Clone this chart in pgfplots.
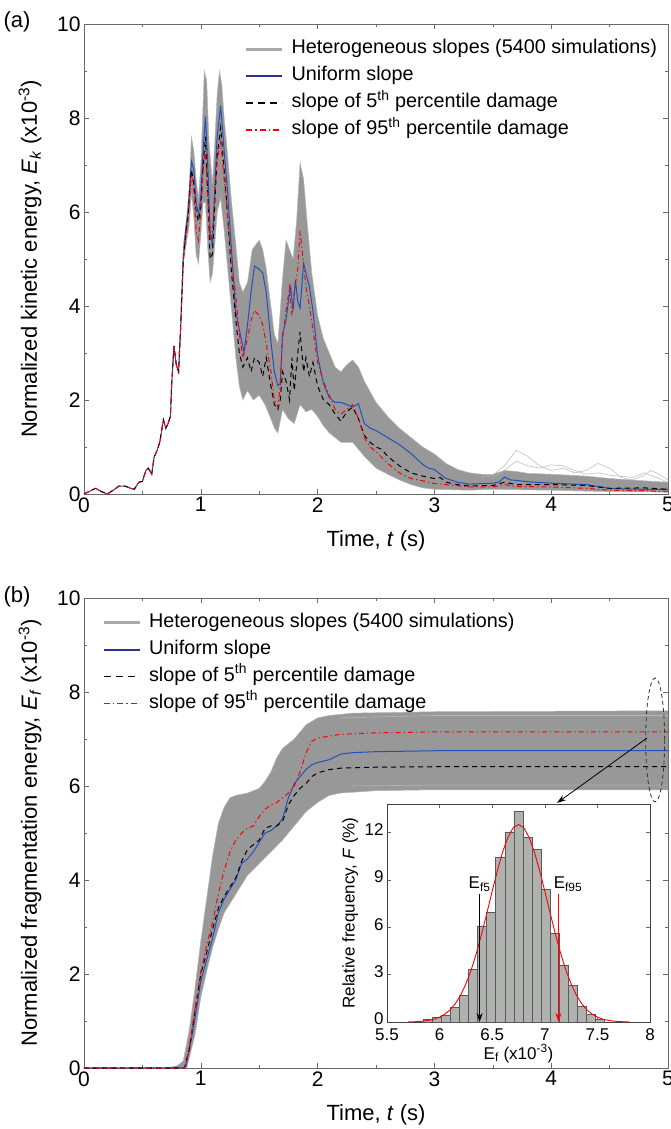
\documentclass[border=0pt]{standalone}
\usepackage{fontspec}
\setmainfont{Liberation Sans}
\setsansfont{Liberation Sans}
\usepackage{pgfplots}
\pgfplotsset{compat=1.18}
\usepgfplotslibrary{fillbetween}
\usetikzlibrary{arrows.meta}

\definecolor{band}{RGB}{152,152,152}
\definecolor{bandedge}{RGB}{182,182,182}
\definecolor{legray}{RGB}{170,170,170}
\definecolor{ublue}{RGB}{35,80,190}
\definecolor{lblue}{RGB}{45,50,150}
\definecolor{axgray}{RGB}{105,105,105}
\definecolor{histfill}{RGB}{175,178,175}
\definecolor{pred}{RGB}{255,0,0}

\pgfplotsset{
  mainax/.style={
    scale only axis, width=584pt, height=470pt,
    xmin=0, xmax=5, ymin=0, ymax=10,
    xtick={0,...,5}, ytick={0,2,...,10},
    minor x tick num=1, minor y tick num=1,
    tick align=inside,
    major tick length=5pt, minor tick length=3pt,
    axis line style={axgray, line width=0.8pt},
    every tick/.style={axgray, line width=0.6pt},
    tick label style={font=\fontsize{21}{25}\selectfont},
    label style={font=\fontsize{22}{26}\selectfont},
    /pgf/number format/assume math mode=true,
    legend style={draw=none, fill=none, font=\fontsize{19.8}{23}\selectfont, row sep=4.5pt,
      anchor=north west, nodes={text height=14pt, text depth=4.5pt, inner ysep=2pt}},
    legend cell align=left,
    xlabel style={at={(axis description cs:0.5,-0.1)}, anchor=center},
    ylabel style={at={(axis description cs:-0.0925,0.5)}, anchor=center},
    clip=false,
    xlabel={Time, \textit{t} (s)},
  },
  lhet/.style={legend image code/.code={\draw[legray, line width=3pt] (0pt,0pt) -- (36pt,0pt); \path (43pt,0pt);}},
  lblu/.style={legend image code/.code={\draw[lblue, line width=1.8pt] (0pt,0pt) -- (36pt,0pt); \path (43pt,0pt);}},
  lblk/.style={legend image code/.code={\draw[black, line width=1.5pt, dash pattern=on 7pt off 5pt] (0pt,0pt) -- (36pt,0pt); \path (43pt,0pt);}},
  lred/.style={legend image code/.code={\draw[pred, line width=1.5pt, dash pattern=on 6pt off 3pt on 1.5pt off 3pt] (0pt,0pt) -- (36pt,0pt); \path (43pt,0pt);}},
}

\begin{document}
\begin{tikzpicture}
%================ TOP PANEL (a) =================
\begin{axis}[mainax, at={(0pt,574pt)},
  ylabel={Normalized kinetic energy, \textit{E}\textsubscript{\textit{k}} (x10\textsuperscript{-3})},
  legend style={at={(axis description cs:0.27,0.975)}}]
\addlegendimage{lhet}
\addlegendentry{Heterogeneous slopes (5400 simulations)}
\addlegendimage{lblu}
\addlegendentry{Uniform slope}
\addlegendimage{lblk}
\addlegendentry{ slope of 5\textsuperscript{th} percentile damage}
\addlegendimage{lred}
\addlegendentry{ slope of 95\textsuperscript{th} percentile damage}
% envelopes of heterogeneous simulations
\addplot[name path=ua, draw=bandedge, line width=0.5pt, forget plot] coordinates {
(0.83,3.7) (0.85,5.3) (0.88,5.9) (0.9,6.5) (0.92,7.6) (0.94,7.3) (0.96,6.7) (0.98,6.3) (1.0,7.0) (1.02,8.3) (1.03,9.0) (1.05,8.8) (1.07,7.5) (1.09,6.9) (1.1,6.6) (1.12,7.5) (1.14,8.5) (1.16,9.0) (1.18,8.7) (1.2,8.0) (1.23,7.2) (1.26,6.3) (1.3,5.3) (1.33,4.5) (1.36,4.3) (1.4,4.5) (1.44,5.2) (1.47,5.3) (1.5,5.4) (1.53,5.2) (1.56,4.8) (1.6,4.0) (1.63,3.4) (1.66,3.2) (1.7,4.6) (1.73,5.4) (1.76,5.2) (1.79,5.0) (1.82,5.8) (1.85,7.05) (1.88,6.7) (1.91,5.8) (1.95,4.7) (2.0,3.8) (2.05,3.3) (2.1,3.0) (2.15,2.7) (2.2,2.6) (2.25,2.75) (2.3,2.85) (2.35,2.7) (2.4,2.4) (2.5,1.95) (2.6,1.65) (2.7,1.4) (2.8,1.2) (2.9,1.0) (3.0,0.85) (3.1,0.65) (3.2,0.52) (3.3,0.45) (3.4,0.42) (3.5,0.42) (3.6,0.5) (3.7,0.48) (3.8,0.44) (4.0,0.42) (4.3,0.38) (4.5,0.33) (4.8,0.28) (5.0,0.25)};
\addplot[name path=la, draw=bandedge, line width=0.5pt, forget plot] coordinates {
(0.83,3.6) (0.85,4.9) (0.88,5.4) (0.9,5.7) (0.92,6.4) (0.94,5.9) (0.96,5.1) (0.98,4.9) (1.0,5.5) (1.02,6.2) (1.04,6.2) (1.06,5.2) (1.08,4.5) (1.1,4.7) (1.12,5.3) (1.14,6.0) (1.17,6.3) (1.2,5.6) (1.23,4.8) (1.26,4.0) (1.3,2.9) (1.33,2.3) (1.36,2.0) (1.4,2.2) (1.45,2.0) (1.5,2.1) (1.55,1.9) (1.6,1.6) (1.63,1.4) (1.66,1.3) (1.7,1.8) (1.75,1.6) (1.8,1.5) (1.85,1.9) (1.9,1.75) (1.95,1.8) (2.0,1.65) (2.05,1.45) (2.1,1.3) (2.2,1.1) (2.3,1.1) (2.4,0.8) (2.5,0.55) (2.6,0.42) (2.7,0.3) (2.8,0.2) (2.9,0.13) (3.0,0.1) (3.3,0.08) (3.5,0.1) (4.0,0.08) (4.5,0.05) (5.0,0.04)};
\addplot[band, forget plot] fill between[of=ua and la];
% a few outlying simulations
\addplot[bandedge, line width=0.5pt, forget plot] coordinates {
(3.4,0.35) (3.5,0.4) (3.6,0.6) (3.7,0.93) (3.8,0.8) (3.9,0.6) (4.0,0.5) (4.1,0.55) (4.2,0.45) (4.3,0.5) (4.4,0.65) (4.5,0.55) (4.6,0.35) (4.7,0.3) (4.8,0.4) (4.85,0.5) (4.9,0.45) (5.0,0.3)};
\addplot[bandedge, line width=0.5pt, forget plot] coordinates {
(3.5,0.35) (3.6,0.5) (3.7,0.7) (3.8,0.6) (3.9,0.55) (4.0,0.62) (4.1,0.6) (4.2,0.5) (4.3,0.42) (4.4,0.45) (4.5,0.4) (4.7,0.35) (4.8,0.45) (4.9,0.35) (5.0,0.25)};
% uniform slope
\addplot[ublue, line width=1pt, forget plot] coordinates {
(0,0) (0.05,0.06) (0.1,0.12) (0.15,0.05) (0.2,0) (0.25,0.08) (0.3,0.17) (0.35,0.17) (0.4,0.12) (0.43,0.1) (0.47,0.25) (0.5,0.27) (0.53,0.5) (0.55,0.55) (0.58,0.42) (0.6,0.78) (0.63,0.95) (0.65,1.12) (0.68,1.58) (0.7,1.4) (0.72,1.5) (0.74,1.65) (0.75,2.3) (0.77,3.15) (0.79,2.75) (0.81,2.6) (0.83,3.7) (0.85,5.0) (0.87,5.6) (0.89,6.0) (0.91,6.7) (0.92,7.08) (0.94,6.9) (0.96,6.2) (0.98,5.95) (1.0,6.3) (1.02,7.3) (1.04,8.03) (1.06,7.0) (1.08,5.6) (1.1,5.3) (1.12,6.5) (1.14,7.6) (1.17,8.26) (1.2,7.3) (1.23,6.4) (1.26,5.3) (1.3,3.85) (1.33,3.5) (1.37,3.02) (1.4,3.6) (1.43,4.3) (1.46,4.85) (1.5,4.78) (1.53,4.7) (1.56,4.3) (1.6,3.25) (1.63,2.6) (1.66,2.3) (1.68,2.35) (1.7,3.4) (1.73,3.7) (1.75,4.1) (1.77,4.4) (1.79,3.9) (1.81,4.55) (1.83,4.1) (1.85,3.95) (1.88,4.9) (1.9,4.7) (1.93,4.4) (1.96,3.9) (2.0,2.95) (2.05,2.35) (2.1,2.05) (2.15,1.95) (2.2,1.95) (2.25,1.9) (2.3,1.85) (2.35,1.92) (2.4,1.5) (2.45,1.4) (2.5,1.35) (2.6,1.2) (2.7,1.05) (2.8,0.86) (2.9,0.63) (2.95,0.55) (3.0,0.52) (3.05,0.42) (3.1,0.33) (3.2,0.25) (3.3,0.21) (3.4,0.22) (3.5,0.23) (3.55,0.25) (3.6,0.36) (3.65,0.3) (3.7,0.29) (3.8,0.26) (4.0,0.23) (4.2,0.21) (4.3,0.2) (4.4,0.16) (4.5,0.12) (4.6,0.11) (4.8,0.1) (5.0,0.1)};
% 5th percentile
\addplot[black, line width=1pt, dash pattern=on 5pt off 4pt, forget plot] coordinates {
(0,0) (0.05,0.06) (0.1,0.12) (0.15,0.05) (0.2,0) (0.25,0.08) (0.3,0.17) (0.35,0.17) (0.4,0.12) (0.43,0.1) (0.47,0.25) (0.5,0.27) (0.53,0.5) (0.55,0.55) (0.58,0.42) (0.6,0.78) (0.63,0.95) (0.65,1.12) (0.68,1.58) (0.7,1.4) (0.72,1.5) (0.74,1.65) (0.75,2.3) (0.77,3.15) (0.79,2.75) (0.81,2.6) (0.83,3.7) (0.85,5.0) (0.87,5.5) (0.89,5.9) (0.91,6.6) (0.92,6.9) (0.94,6.6) (0.96,6.0) (0.98,5.8) (1.0,6.1) (1.02,7.0) (1.04,7.6) (1.06,6.4) (1.08,5.0) (1.1,5.1) (1.12,6.2) (1.14,7.2) (1.17,7.8) (1.2,6.9) (1.23,5.9) (1.26,4.8) (1.3,3.7) (1.33,3.0) (1.36,2.7) (1.4,2.9) (1.43,2.6) (1.46,2.9) (1.5,2.8) (1.53,2.5) (1.56,2.9) (1.6,2.3) (1.63,1.9) (1.66,1.8) (1.68,2.0) (1.7,2.6) (1.73,2.4) (1.76,2.0) (1.78,2.9) (1.8,2.2) (1.83,3.0) (1.85,3.45) (1.88,2.6) (1.9,2.9) (1.93,2.5) (1.96,2.8) (2.0,2.3) (2.05,2.0) (2.1,1.9) (2.15,1.7) (2.2,1.55) (2.25,1.75) (2.3,1.85) (2.35,1.6) (2.4,1.25) (2.45,1.1) (2.5,1.0) (2.55,0.95) (2.6,0.8) (2.7,0.6) (2.8,0.45) (2.9,0.38) (3.0,0.33) (3.05,0.35) (3.1,0.25) (3.2,0.2) (3.3,0.17) (3.5,0.18) (3.6,0.25) (3.7,0.2) (4.0,0.2) (4.3,0.18) (4.5,0.12) (4.8,0.13) (5.0,0.1)};
% 95th percentile
\addplot[pred, line width=1pt, dash pattern=on 5pt off 3pt on 1.2pt off 3pt, forget plot] coordinates {
(0,0) (0.05,0.06) (0.1,0.12) (0.15,0.05) (0.2,0) (0.25,0.08) (0.3,0.17) (0.35,0.17) (0.4,0.12) (0.43,0.1) (0.47,0.25) (0.5,0.27) (0.53,0.5) (0.55,0.55) (0.58,0.42) (0.6,0.78) (0.63,0.95) (0.65,1.12) (0.68,1.58) (0.7,1.4) (0.72,1.5) (0.74,1.65) (0.75,2.3) (0.77,3.15) (0.79,2.75) (0.81,2.6) (0.83,3.7) (0.85,5.0) (0.87,5.4) (0.89,5.8) (0.91,6.5) (0.92,6.8) (0.94,6.5) (0.96,5.6) (0.98,5.4) (1.0,6.0) (1.02,6.9) (1.04,7.3) (1.06,6.3) (1.08,5.4) (1.1,5.6) (1.12,6.4) (1.14,7.1) (1.17,7.5) (1.2,6.7) (1.23,5.9) (1.26,5.1) (1.3,4.2) (1.33,3.4) (1.36,2.9) (1.4,3.3) (1.43,3.7) (1.46,3.9) (1.5,3.8) (1.53,3.6) (1.56,3.2) (1.6,2.6) (1.63,2.0) (1.66,1.85) (1.68,2.3) (1.7,3.3) (1.73,3.9) (1.76,4.4) (1.78,3.8) (1.8,4.3) (1.83,4.8) (1.85,5.6) (1.88,4.9) (1.9,4.4) (1.93,4.0) (1.96,3.5) (2.0,2.8) (2.05,2.4) (2.1,2.1) (2.15,1.8) (2.2,1.7) (2.25,1.8) (2.3,1.9) (2.35,1.6) (2.4,1.2) (2.45,1.0) (2.5,0.9) (2.6,0.65) (2.7,0.45) (2.8,0.33) (2.9,0.28) (3.0,0.22) (3.1,0.2) (3.3,0.15) (3.5,0.15) (3.6,0.2) (3.7,0.16) (4.0,0.15) (4.3,0.12) (4.5,0.08) (4.8,0.07) (5.0,0.05)};
\end{axis}

%================ BOTTOM PANEL (b) =================
\begin{axis}[mainax, at={(0pt,0pt)},
  ylabel={Normalized fragmentation energy, \textit{E}\textsubscript{\textit{f}} (x10\textsuperscript{-3})},
  legend style={at={(axis description cs:0.026,0.976)}}]
\addlegendimage{lhet}
\addlegendentry{Heterogeneous slopes (5400 simulations)}
\addlegendimage{lblu}
\addlegendentry{Uniform slope}
\addlegendimage{lblk}
\addlegendentry{ slope of 5\textsuperscript{th} percentile damage}
\addlegendimage{lred}
\addlegendentry{ slope of 95\textsuperscript{th} percentile damage}
\addplot[name path=ub, draw=bandedge, line width=0.5pt, forget plot] coordinates {
(0.7,0) (0.8,0.05) (0.85,0.15) (0.9,0.8) (0.95,1.7) (1.0,2.7) (1.05,3.6) (1.1,4.5) (1.15,5.2) (1.2,5.55) (1.25,5.75) (1.3,5.8) (1.4,5.85) (1.5,5.95) (1.55,6.1) (1.6,6.3) (1.65,6.6) (1.7,6.8) (1.8,7.0) (1.9,7.3) (2.0,7.45) (2.1,7.5) (2.3,7.55) (3.0,7.58) (5.0,7.6)};
\addplot[name path=lb, draw=bandedge, line width=0.5pt, forget plot] coordinates {
(0.7,0) (0.88,0) (0.95,0.7) (1.0,1.5) (1.05,2.05) (1.1,2.55) (1.15,2.95) (1.2,3.3) (1.3,3.7) (1.4,4.1) (1.5,4.35) (1.6,4.6) (1.7,4.85) (1.8,5.15) (1.9,5.45) (2.0,5.65) (2.1,5.8) (2.2,5.85) (2.5,5.9) (3.0,5.92) (5.0,5.92)};
\addplot[band, forget plot] fill between[of=ub and lb];
\addplot[bandedge, line width=0.6pt, forget plot] coordinates {(2.2,7.45) (3.0,7.5) (5.0,7.5)};
\addplot[bandedge, line width=0.6pt, forget plot] coordinates {(2.3,6.0) (3.0,6.02) (5.0,6.02)};
% uniform slope
\addplot[ublue, line width=1pt, forget plot] coordinates {
(0,0) (0.85,0) (0.87,0.02) (0.9,0.35) (0.95,1.05) (1.0,1.85) (1.05,2.3) (1.1,2.75) (1.15,3.3) (1.2,3.6) (1.25,3.8) (1.3,4.0) (1.35,4.35) (1.4,4.45) (1.45,4.6) (1.5,4.8) (1.55,5.0) (1.6,5.05) (1.65,5.15) (1.7,5.3) (1.75,5.75) (1.8,6.05) (1.85,6.2) (1.9,6.35) (1.95,6.45) (2.0,6.5) (2.1,6.56) (2.15,6.62) (2.2,6.68) (2.3,6.71) (2.5,6.73) (3.0,6.75) (4.0,6.75) (5.0,6.75)};
\addplot[black, line width=1pt, dash pattern=on 5pt off 4pt, forget plot] coordinates {
(0,0) (0.86,0) (0.9,0.4) (0.95,1.2) (1.0,2.0) (1.05,2.45) (1.1,2.95) (1.15,3.4) (1.2,3.65) (1.25,3.85) (1.3,4.05) (1.35,4.4) (1.4,4.65) (1.45,4.75) (1.5,4.85) (1.55,5.1) (1.6,5.15) (1.65,5.15) (1.7,5.25) (1.75,5.6) (1.8,5.8) (1.85,5.95) (1.9,6.05) (1.95,6.2) (2.0,6.28) (2.1,6.35) (2.2,6.38) (2.5,6.4) (3.0,6.41) (5.0,6.41)};
\addplot[pred, line width=1pt, dash pattern=on 5pt off 3pt on 1.2pt off 3pt, forget plot] coordinates {
(0,0) (0.86,0) (0.9,0.4) (0.95,1.25) (1.0,2.05) (1.05,2.6) (1.1,3.1) (1.15,3.7) (1.2,4.2) (1.25,4.6) (1.3,4.85) (1.35,5.0) (1.4,5.1) (1.45,5.15) (1.5,5.35) (1.55,5.5) (1.6,5.6) (1.65,5.65) (1.7,5.75) (1.75,5.85) (1.8,6.0) (1.85,6.3) (1.9,6.7) (1.95,6.95) (2.0,7.02) (2.1,7.06) (2.2,7.1) (2.5,7.13) (3.0,7.15) (5.0,7.15)};
% ellipse and arrow to inset
\draw[black!80, line width=0.8pt, dash pattern=on 4pt off 3pt] (axis cs:4.89,6.98) ellipse [x radius=9.5pt, y radius=62pt];
\draw[black, line width=0.8pt, -{Stealth[length=9pt,width=6pt]}] (axis cs:4.82,7.02) -- (axis cs:4.05,5.64);
\end{axis}

%================ INSET =================
\begin{axis}[at={(303pt,46pt)}, anchor=south west, scale only axis, width=263pt, height=218pt,
  xmin=5.5, xmax=8, ymin=0, ymax=13.8,
  xtick={5.5,6,6.5,7,7.5,8}, ytick={0,3,6,9,12},
  tick align=inside, major tick length=4pt,
  axis line style={black!75, line width=0.8pt},
  every tick/.style={axgray, line width=0.6pt},
  tick label style={font=\fontsize{17}{20}\selectfont},
  label style={font=\fontsize{17}{20}\selectfont},
  /pgf/number format/assume math mode=true,
  axis background/.style={fill=white},
  xlabel={E\textsubscript{f} (x10\textsuperscript{-3})},
  ylabel={Relative frequency, \textit{F} (\%)},
  xlabel style={at={(axis description cs:0.5,-0.145)}, anchor=center},
  ylabel style={at={(axis description cs:-0.14,0.5)}, anchor=center},
  yticklabel style={yshift=3pt},
  xticklabel style={yshift=-3pt},
  clip=false]
\addplot[ybar interval, fill=histfill, draw=black!65, line width=0.6pt] coordinates {
(5.844,0.19) (5.930,0.30) (6.017,0.40) (6.103,0.94) (6.189,1.66) (6.276,3.33) (6.362,6.06) (6.448,6.96) (6.534,10.42) (6.621,12.03) (6.707,13.35) (6.793,11.68) (6.880,10.94) (6.966,8.39) (7.052,5.60) (7.139,3.60) (7.225,2.30) (7.311,0.99) (7.397,0.50) (7.484,0.20) (7.570,0.20)};
\addplot[pred, line width=0.9pt] coordinates {
(5.70,0.007) (5.75,0.015) (5.80,0.03) (5.85,0.06) (5.90,0.11) (5.95,0.18) (6.00,0.31) (6.05,0.50) (6.10,0.77) (6.15,1.17) (6.20,1.70) (6.25,2.41) (6.30,3.29) (6.35,4.36) (6.40,5.58) (6.45,6.91) (6.50,8.28) (6.55,9.60) (6.60,10.78) (6.65,11.70) (6.70,12.30) (6.75,12.50) (6.80,12.30) (6.85,11.70) (6.90,10.78) (6.95,9.60) (7.00,8.28) (7.05,6.91) (7.10,5.58) (7.15,4.36) (7.20,3.29) (7.25,2.41) (7.30,1.70) (7.35,1.17) (7.40,0.77) (7.45,0.50) (7.50,0.31) (7.55,0.18) (7.60,0.11) (7.65,0.06) (7.70,0.03) (7.75,0.015) (7.80,0.007)};
\draw[black, line width=0.8pt, -{Stealth[length=9pt,width=6pt]}] (axis cs:6.38,8.1) -- (axis cs:6.38,0);
\draw[pred, line width=0.8pt, -{Stealth[length=9pt,width=6pt]}] (axis cs:7.13,8.1) -- (axis cs:7.13,0);
\node[anchor=south, font=\fontsize{17}{20}\selectfont, inner sep=1pt] at (axis cs:6.38,8.2) {E\textsubscript{f5}};
\node[anchor=south, font=\fontsize{17}{20}\selectfont, inner sep=1pt] at (axis cs:7.22,8.2) {E\textsubscript{f95}};
\end{axis}

\node[font=\fontsize{22}{26}\selectfont] at (-67pt,1046pt) {(a)};
\node[font=\fontsize{22}{26}\selectfont] at (-67pt,471pt) {(b)};
\pgfresetboundingbox
\path[use as bounding box] (-84pt,-61pt) rectangle (587pt,1068pt);
\end{tikzpicture}
\end{document}
